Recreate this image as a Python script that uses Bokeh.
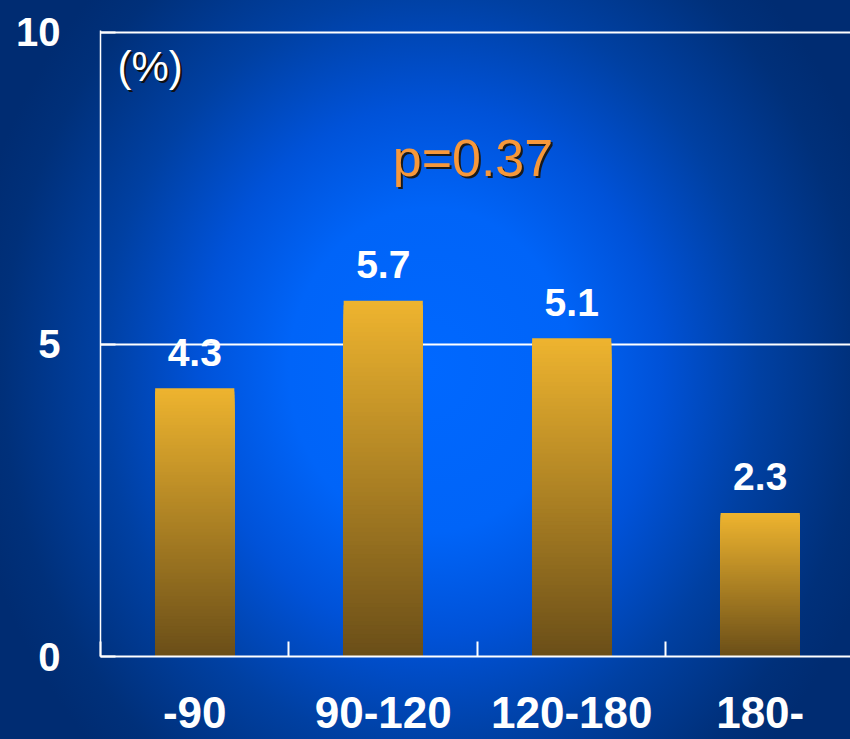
from bokeh.plotting import figure
from bokeh.models import Range1d, FixedTicker, ColumnDataSource
from bokeh.core.properties import value
from bokeh.embed import file_html
from bokeh.resources import INLINE

# ---- data ----
categories = ["-90", "90-120", "120-180", "180-"]
rates = [4.3, 5.7, 5.1, 2.3]
y_ticks = [0, 5, 10]
grid_ticks = [5, 10]
p_value_text = "p=0.37"
unit_text = "(%)"

FONT = "Liberation Sans"
cat_x = [i + 0.5 for i in range(len(categories))]
boundaries = [float(i) for i in range(len(categories))]

p = figure(width=850, height=739,
           x_range=Range1d(0, 3.979), y_range=Range1d(0, 10.03),
           output_backend="svg", toolbar_location=None,
           min_border_left=100, min_border_right=0,
           min_border_top=30, min_border_bottom=83)
p.styles = {"background": "radial-gradient(ellipse 470px 540px at 430px 370px, "
                          "#0068ff 0%, #0064f8 30%, #0052d8 49%, #0040a2 70%, "
                          "#00307a 91%, #002c72 100%)"}
p.background_fill_color = None
p.border_fill_color = None
p.outline_line_color = None

# ---- gradient bars: nested bars, tallest first, so no seams ----
def hex2rgb(h):
    h = h.lstrip("#")
    return tuple(int(h[i:i + 2], 16) for i in (0, 2, 4))

top_c = hex2rgb("#EEB42F")
bot_c = hex2rgb("#6A4E18")
N = 80
xs, tops, cols = [], [], []
for k in range(N, 0, -1):
    f = (k - 0.5) / N
    c = tuple(int(round(bot_c[j] + (top_c[j] - bot_c[j]) * f)) for j in range(3))
    for x, v in zip(cat_x, rates):
        xs.append(x)
        tops.append(v * k / N)
        cols.append("#%02x%02x%02x" % c)
p.vbar(x=xs, bottom=0, top=tops, width=0.42, fill_color=cols, line_color=None)

# ---- value labels ----
src = ColumnDataSource(dict(x=cat_x, y=rates, t=[str(r) for r in rates]))
p.text(x="x", y="y", text="t", source=src, y_offset=-36,
       text_align="center", text_baseline="alphabetic",
       text_font=value(FONT), text_font_style="bold",
       text_font_size="39px", text_color="white")

# ---- annotations with shadow ----
for dx, col in ((2, "#101010"), (0, "white")):
    p.text(x=[0.09], y=[9.45], text=[unit_text], x_offset=dx, y_offset=dx,
           text_align="left", text_baseline="alphabetic",
           text_font=value(FONT), text_font_size="42px", text_color=col)
for dx, col in ((2, "#1a1a1a"), (0, "#F7983A")):
    p.text(x=[1.976], y=[7.98], text=[p_value_text], x_offset=dx, y_offset=dx,
           text_align="center", text_baseline="alphabetic",
           text_font=value(FONT), text_font_size="52px", text_color=col)

# ---- axes ----
yax = p.yaxis[0]
yax.ticker = FixedTicker(ticks=y_ticks)
yax.axis_line_color = "white"
yax.axis_line_width = 1.5
yax.major_tick_in = 15
yax.major_tick_out = 0
yax.major_tick_line_color = "white"
yax.major_tick_line_width = 2
yax.minor_tick_line_color = None
yax.major_label_standoff = 40
yax.major_label_text_font = FONT
yax.major_label_text_font_style = "bold"
yax.major_label_text_font_size = "40px"
yax.major_label_text_color = "white"

xax = p.xaxis[0]
xax.ticker = FixedTicker(ticks=cat_x, minor_ticks=boundaries)
xax.major_label_overrides = {x: c for x, c in zip(cat_x, categories)}
xax.axis_line_color = "white"
xax.axis_line_width = 2
xax.major_tick_in = 0
xax.major_tick_out = 0
xax.major_tick_line_color = None
xax.minor_tick_in = 15
xax.minor_tick_out = 0
xax.minor_tick_line_color = "white"
xax.minor_tick_line_width = 2
xax.major_label_standoff = 40
xax.major_label_text_font = FONT
xax.major_label_text_font_style = "bold"
xax.major_label_text_font_size = "44px"
xax.major_label_text_color = "white"

p.xgrid.visible = False
p.ygrid.ticker = FixedTicker(ticks=grid_ticks)
p.ygrid.grid_line_color = "white"
p.ygrid.grid_line_width = 2

open("out.html", "w").write(file_html(p, INLINE))
